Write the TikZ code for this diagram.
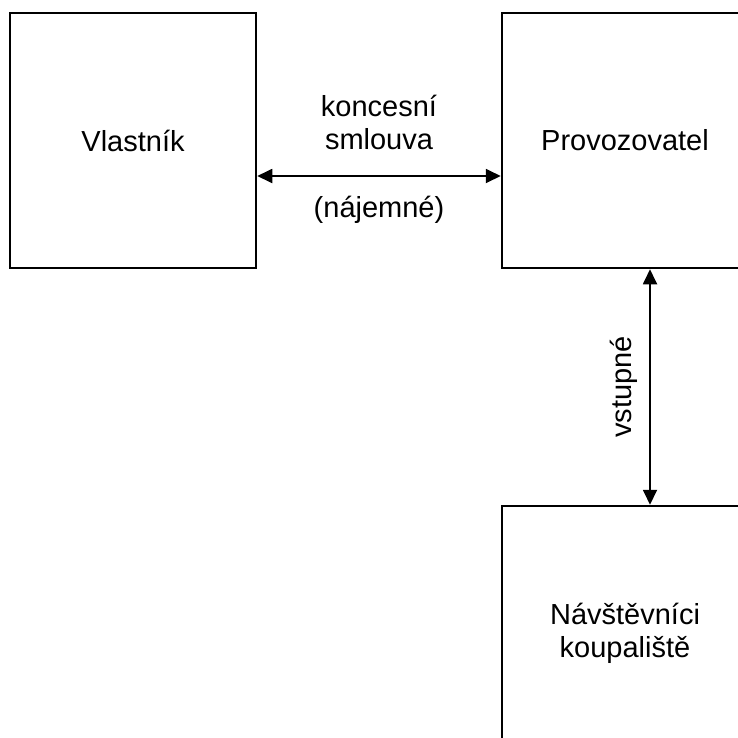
\documentclass[tikz,border=0pt]{standalone}
\usepackage{fontspec}
\setmainfont{Liberation Sans}
\usetikzlibrary{arrows.meta,positioning}
\tikzstyle{party}=[draw,line width=2.5pt,minimum width=246pt,minimum height=255pt,align=center,inner sep=0pt]
\tikzstyle{link}=[draw,line width=1.8pt,{Triangle[length=15pt,width=14pt]}-{Triangle[length=15pt,width=14pt]}]
\tikzstyle{lbl}=[align=center,inner sep=0pt]

\begin{document}
\begin{tikzpicture}[x=1pt,y=-1pt,font=\fontsize{29}{33}\selectfont]
    % page frame
    \useasboundingbox (0,0) rectangle (738,737);
    % the three parties
    \node[party] (vlastnik) at (133,140.5) {Vlastník};
    \node[party] (provoz) at (625,140.5) {Provozovatel};
    \node[party] (navstev) at (625,633.5) {Návštěvníci\\koupaliště};
    % payments between them
    \path[link] ([yshift=-35.5pt]vlastnik.east) -- ([yshift=-35.5pt]provoz.west)
        node[lbl,midway,above=25pt] (smlouva) {koncesní\\smlouva}
        node[lbl,midway,below=19pt] (najem) {(nájemné)};
    \path[link] ([xshift=25pt]provoz.south) -- ([xshift=25pt]navstev.north)
        node[lbl,midway,anchor=center,xshift=-26pt,rotate=90] (vstup) {vstupné};
\end{tikzpicture}
\end{document}
